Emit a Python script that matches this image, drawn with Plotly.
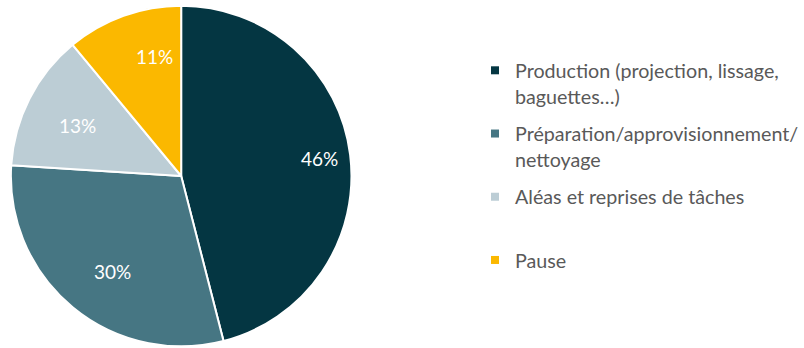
import math
import plotly.graph_objects as go

categories = [
    "Production (projection, lissage,<br>baguettes…)",
    "Préparation/approvisionnement/<br>nettoyage",
    "Aléas et reprises de tâches<br>\u00a0",
    "Pause",
]
values = [46, 30, 13, 11]
colors = ["#043642", "#467683", "#bccdd5", "#fbb800"]

W, H = 804, 348
cx, cy_top, R = 183, 176, 172  # pie centre (px) and radius (px)

fig = go.Figure()
fig.add_trace(go.Pie(
    labels=categories, values=values, sort=False, direction="clockwise", rotation=0,
    marker=dict(colors=colors, line=dict(color="white", width=2)),
    textinfo="none", hoverinfo="label+percent", showlegend=False,
    domain=dict(x=[max(0, (cx - R) / W), min(1, (cx + R) / W)],
                y=[max(0, (H - cy_top - R) / H), min(1, (H - cy_top + R) / H)]),
))

# legend via marker-only dummy traces
for i, (lab, col) in enumerate(zip(categories, colors)):
    fig.add_trace(go.Scatter(
        x=[None], y=[None], mode="markers", name=lab, legendgroup=str(i),
        marker=dict(symbol="square", size=8, color=col),
    ))

# percentage labels at slice mid-angles
total = sum(values)
cum = 0
for v in values:
    mid = (cum + v / 2) / total * 2 * math.pi
    cum += v
    rr = 0.82 * R
    px = cx + rr * math.sin(mid)
    py = cy_top - rr * math.cos(mid)
    fig.add_annotation(x=px / W, y=1 - py / H, xref="paper", yref="paper",
                       text=f"{v}%", showarrow=False,
                       font=dict(family="Lato", size=19, color="white"))

fig.update_layout(
    width=W, height=H,
    margin=dict(l=0, r=0, t=0, b=0),
    paper_bgcolor="white", plot_bgcolor="white",
    xaxis=dict(visible=False), yaxis=dict(visible=False),
    legend=dict(x=480 / W, y=1 - 51 / H, xanchor="left", yanchor="top",
                valign="top", tracegroupgap=9,
                font=dict(family="Lato", size=19.7, color="#595959"),
                bgcolor="rgba(0,0,0,0)"),
    font=dict(family="Lato"),
)

fig.write_html("out.html", config={"displayModeBar": False},
               post_script="document.body.style.margin='0';")
